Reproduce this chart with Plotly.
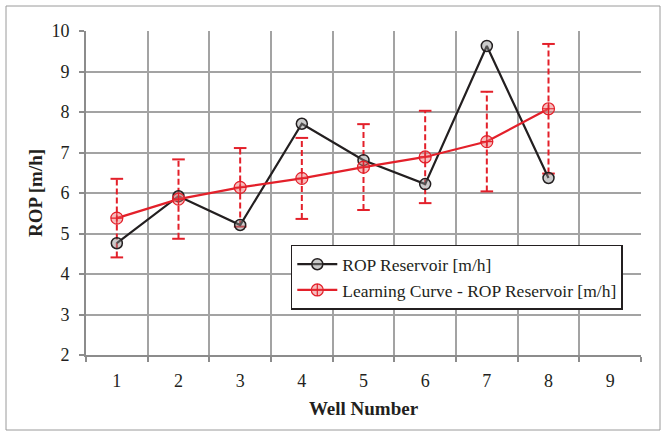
import plotly.graph_objects as go

wells = ["1", "2", "3", "4", "5", "6", "7", "8"]
all_wells = ["1", "2", "3", "4", "5", "6", "7", "8", "9"]
rop_reservoir = [4.76, 5.92, 5.21, 7.71, 6.81, 6.22, 9.63, 6.37]
learning_curve = [5.38, 5.85, 6.14, 6.36, 6.64, 6.89, 7.27, 8.08]
lc_error = [0.97, 0.98, 0.97, 1.00, 1.06, 1.14, 1.23, 1.60]
y_ticks = [2, 3, 4, 5, 6, 7, 8, 9, 10]

RED = "#e3202a"
BLACK = "#231f20"

lo = [v - e for v, e in zip(learning_curve, lc_error)]
hi = [v + e for v, e in zip(learning_curve, lc_error)]

# dashed error bar stems
ex, ey = [], []
for w, a, b in zip(wells, lo, hi):
    ex += [w, w, None]
    ey += [a, b, None]

fig = go.Figure()
fig.add_trace(go.Scatter(x=ex, y=ey, mode="lines", showlegend=False,
                         line=dict(color=RED, width=2, dash="6px,3px"),
                         hoverinfo="skip"))
fig.add_trace(go.Scatter(x=wells + wells, y=lo + hi, mode="markers", showlegend=False,
                         marker=dict(symbol="line-ew", size=9,
                                     line=dict(color=RED, width=2)),
                         hoverinfo="skip"))
fig.add_trace(go.Scatter(x=wells, y=rop_reservoir, mode="lines+markers",
                         name="ROP Reservoir [m/h]",
                         line=dict(color=BLACK, width=2.2),
                         marker=dict(symbol="circle", size=11,
                                     color="rgba(140,140,140,0.45)",
                                     line=dict(color=BLACK, width=1.5))))
fig.add_trace(go.Scatter(x=wells, y=learning_curve, mode="lines+markers",
                         name="Learning Curve - ROP Reservoir [m/h]",
                         line=dict(color=RED, width=2.2),
                         marker=dict(symbol="circle-cross", size=12,
                                     color="rgba(235,110,110,0.45)",
                                     line=dict(color=RED, width=1.2))))

fig.update_layout(
    width=665, height=435,
    margin=dict(l=86, r=24, t=31, b=80),
    paper_bgcolor="white", plot_bgcolor="white",
    font=dict(family="Liberation Serif", size=18, color="#231f20"),
    legend=dict(x=0.369, y=0.34, xanchor="left", yanchor="top",
                bgcolor="white", bordercolor="#231f20", borderwidth=1.5,
                font=dict(size=17.5), tracegroupgap=0, itemwidth=40),
    xaxis=dict(type="category", categoryorder="array", categoryarray=all_wells,
               range=[-0.5, 8.5], tickson="boundaries",
               showgrid=True, gridcolor="#a3a3a3", gridwidth=1.5,
               showline=True, linecolor="#8c8c8c", linewidth=2,
               ticks="outside", ticklen=5, tickcolor="#8c8c8c", tickwidth=1.5,
               ticklabelstandoff=8, tickfont=dict(size=18),
               title=dict(text="<b>Well Number</b>", standoff=12,
                          font=dict(size=19))),
    yaxis=dict(range=[2, 10], tickvals=y_ticks,
               showgrid=True, gridcolor="#a3a3a3", gridwidth=1.5,
               showline=True, linecolor="#8c8c8c", linewidth=2,
               ticks="outside", ticklen=5, tickcolor="#8c8c8c", tickwidth=1.5,
               ticklabelstandoff=6, tickfont=dict(size=18),
               zeroline=False,
               title=dict(text="<b>ROP [m/h]</b>", standoff=4,
                          font=dict(size=19))),
    shapes=[dict(type="rect", xref="paper", yref="paper",
                 x0=-80 / 555, x1=1 + 19 / 555, y0=-75 / 324, y1=1 + 25 / 324,
                 line=dict(color="#9a9a9a", width=1), layer="below")],
)

fig.write_html("out.html", post_script="document.body.style.margin='0';",
               config={"displayModeBar": False})
